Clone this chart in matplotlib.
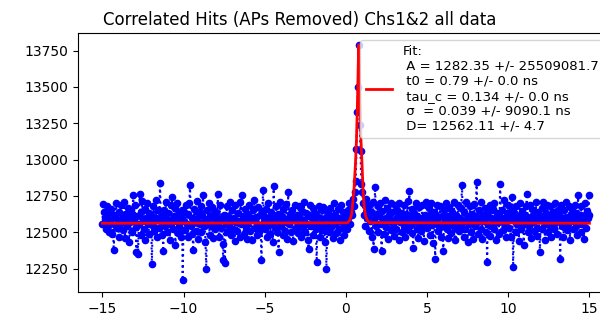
import numpy as np
import matplotlib
matplotlib.use("Agg")
import matplotlib.pyplot as plt
from matplotlib.ticker import MultipleLocator

# time bins (ns), 0.05 ns wide
t_start = -15.0
t_stop = 15.0
n_bins = 601

# counts per bin (20 bins per row)
counts = [
    12560, 12696, 12640, 12590, 12520, 12610, 12680, 12545, 12500, 12630, 12575, 12660, 12490, 12605, 12378, 12550, 12620, 12700, 12530, 12585,
    12470, 12640, 12555, 12690, 12600, 12515, 12580, 12710, 12460, 12625, 12540, 12665, 12595, 12430, 12570, 12650, 12505, 12620, 12754, 12580,
    12690, 12535, 12365, 12610, 12353, 12560, 12765, 12640, 12480, 12715, 12590, 12525, 12660, 12445, 12600, 12700, 12555, 12490, 12635, 12575,
    12620, 12284, 12545, 12680, 12510, 12600, 12725, 12465, 12590, 12650, 12530, 12840, 12610, 12480, 12570, 12370, 12655, 12540, 12705, 12590,
    12500, 12635, 12575, 12450, 12690, 12560, 12742, 12520, 12610, 12665, 12411, 12585, 12700, 12495, 12630, 12545, 12600, 12470, 12655, 12170,
    12580, 12640, 12515, 12690, 12560, 12470, 12625, 12700, 12823, 12545, 12600, 12490, 12376, 12660, 12575, 12510, 12715, 12595, 12455, 12640,
    12560, 12680, 12500, 12620, 12758, 12545, 12590, 12435, 12250, 12655, 12570, 12700, 12480, 12610, 12540, 12675, 12460, 12595, 12630, 12520,
    12640, 12555, 12765, 12600, 12470, 12690, 12530, 12585, 12420, 12308, 12620, 12292, 12560, 12680, 12505, 12615, 12545, 12710, 12480, 12590,
    12650, 12525, 12600, 12440, 12690, 12570, 12510, 12635, 12580, 12470, 12705, 12555, 12754, 12615, 12490, 12580, 12660, 12535, 12455, 12625,
    12570, 12690, 12510, 12600, 12445, 12650, 12585, 12720, 12530, 12605, 12480, 12560, 12675, 12500, 12620, 12545, 12308, 12640, 12788, 12575,
    12520, 12660, 12595, 12465, 12700, 12550, 12615, 12490, 12640, 12575, 12430, 12818, 12600, 12535, 12680, 12505, 12625, 12365, 12590, 12710,
    12545, 12615, 12480, 12660, 12570, 12510, 12695, 12590, 12455, 12777, 12560, 12625, 12500, 12650, 12585, 12440, 12605, 12690, 12530, 12575,
    12620, 12495, 12680, 12555, 12600, 12470, 12645, 12530, 12710, 12580, 12505, 12635, 12560, 12450, 12387, 12615, 12690, 12540, 12595, 12665,
    12480, 12575, 12630, 12520, 12296, 12610, 12545, 12680, 12470, 12590, 12650, 12515, 12674, 12560, 12430, 12605, 12250, 12545, 12640, 12500,
    12590, 12670, 12535, 12610, 12460, 12700, 12555, 12620, 12495, 12585, 12660, 12525, 12600, 12450, 12690, 12570, 12530, 12640, 12480, 12610,
    12580, 12520, 12650, 12600, 12700, 12560, 12640, 12690, 12620, 12730, 12680, 12780, 12850, 13070, 13330, 13500, 13790, 13240, 13060, 12830,
    12780, 12700, 12620, 12690, 12545, 12730, 12600, 12655, 12510, 12690, 12575, 12640, 12470, 12705, 12387, 12590, 12811, 12540, 12625, 12680,
    12505, 12610, 12700, 12560, 12370, 12645, 12585, 12490, 12720, 12600, 12535, 12665, 12455, 12620, 12580, 12700, 12515, 12640, 12560, 12475,
    12690, 12590, 12520, 12655, 12610, 12450, 12700, 12570, 12635, 12500, 12600, 12685, 12540, 12470, 12625, 12580, 12715, 12515, 12782, 12605,
    12550, 12660, 12495, 12392, 12630, 12580, 12700, 12525, 12610, 12460, 12675, 12560, 12600, 12510, 12690, 12545, 12440, 12620, 12585, 12705,
    12530, 12610, 12665, 12480, 12595, 12700, 12550, 12425, 12640, 12575, 12319, 12620, 12690, 12510, 12600, 12545, 12680, 12470, 12615, 12560,
    12370, 12650, 12590, 12700, 12520, 12615, 12460, 12675, 12555, 12600, 12495, 12640, 12580, 12710, 12530, 12450, 12620, 12565, 12690, 12510,
    12600, 12545, 12665, 12827, 12580, 12470, 12640, 12520, 12705, 12590, 12435, 12610, 12560, 12680, 12500, 12625, 12575, 12455, 12695, 12540,
    12610, 12845, 12570, 12490, 12650, 12600, 12525, 12710, 12455, 12620, 12580, 12665, 12505, 12595, 12296, 12640, 12550, 12690, 12475, 12600,
    12560, 12660, 12520, 12700, 12590, 12445, 12635, 12570, 12610, 12490, 12834, 12580, 12655, 12515, 12600, 12720, 12540, 12465, 12630, 12575,
    12690, 12530, 12605, 12470, 12650, 12742, 12262, 12585, 12625, 12500, 12680, 12555, 12610, 12440, 12700, 12570, 12520, 12645, 12590, 12415,
    12620, 12560, 12680, 12765, 12505, 12600, 12545, 12690, 12460, 12615, 12575, 12650, 12510, 12595, 12705, 12530, 12475, 12640, 12585, 12365,
    12600, 12665, 12525, 12710, 12580, 12450, 12630, 12560, 12690, 12505, 12615, 12545, 12680, 12470, 12595, 12640, 12520, 12700, 12565, 12610,
    12490, 12655, 12580, 12620, 12319, 12690, 12540, 12600, 12470, 12650, 12575, 12710, 12515, 12605, 12555, 12680, 12445, 12625, 12590, 12660,
    12520, 12600, 12690, 12545, 12635, 12480, 12758, 12575, 12620, 12505, 12680, 12560, 12610, 12455, 12700, 12585, 12530, 12645, 12600, 12754,
    12620,
]

# fit curve
fit_t = [-15, 0.1, 0.25, 0.35, 0.42, 0.5, 0.58, 0.65, 0.71, 0.76, 0.79,
         0.82, 0.87, 0.93, 1.0, 1.06, 1.12, 1.2, 1.3, 1.45, 15]
fit_counts = [12562, 12565, 12585, 12625, 12700, 12800, 12950, 13130, 13380, 13650, 13790,
              13650, 13380, 13130, 12950, 12780, 12680, 12620, 12585, 12566, 12562]

fit_label = ("Fit:\n A = 1282.35 +/- 25509081.7\n t0 = 0.79 +/- 0.0 ns\n"
             " tau_c = 0.134 +/- 0.0 ns\n σ  = 0.039 +/- 9090.1 ns\n D= 12562.11 +/- 4.7")

t = np.linspace(t_start, t_stop, n_bins)

fig = plt.figure(figsize=(6, 3.21), dpi=100)
# axes run past the right edge of the saved picture, like the original crop
ax = fig.add_axes([0.13, 0.0903, 0.893, 0.807])

ax.plot(t, counts, "b:o", markersize=4.5)
ax.plot(fit_t, fit_counts, "r-", linewidth=2, label=fit_label)

ax.yaxis.set_major_locator(MultipleLocator(250))
ax.set_title("Correlated Hits (APs Removed) Chs1&2 all data", fontsize=12, x=0.414)
ax.legend(loc="upper right", bbox_to_anchor=(0.995, 1.0), fontsize=9.5)

fig.savefig("out.png", dpi=100)
